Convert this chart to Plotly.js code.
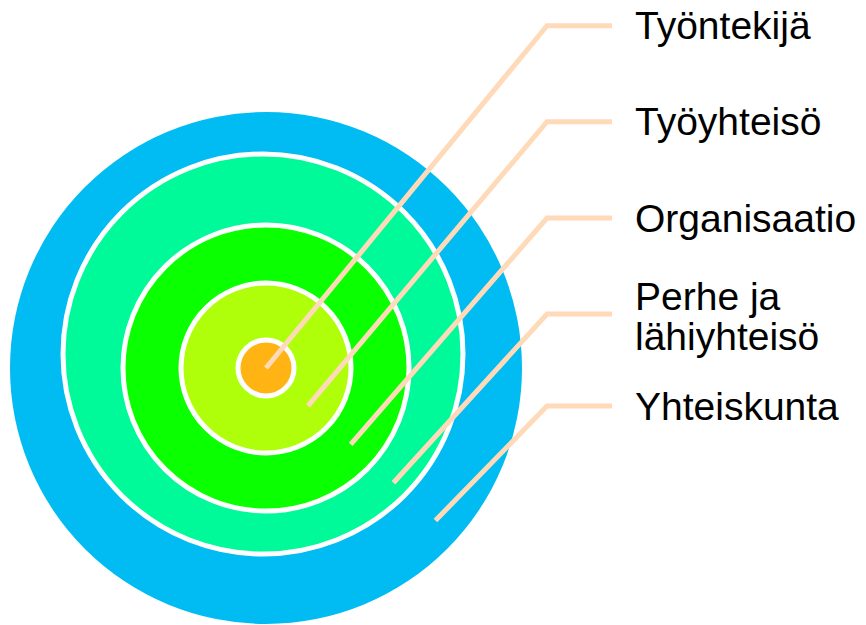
<!DOCTYPE html>
<html>
<head>
<meta charset="utf-8">
<script src="https://cdn.plot.ly/plotly-3.0.1.min.js"></script>
<style>html,body{margin:0;padding:0;background:#fff;}#chart{width:866px;height:625px;}</style>
</head>
<body>
<div id="chart"></div>
<script>
// ---- data (innermost ring first) ----
const labels = ["Työntekijä", "Työyhteisö", "Organisaatio", "Perhe ja<br>lähiyhteisö", "Yhteiskunta"];
const outerRadius = [28, 85, 143, 200, 256];

// ---- styles / layout config ----
const ringColors = ["#FFB414", "#B0FF0A", "#0AFF00", "#00FA9A", "#00BCF2"];
const ringBorder = [5, 5, 5, 5, 0];
const ringShiftX = [0, 0, 0, -3, 0];
const ringShiftY = [0, 0, 0, 14, 0];
const labelY = [342.3, 246.3, 150, 54, -38];
const leaderAngle = -42 * Math.PI / 180;
const elbowX = 281, leaderEndX = 346, labelX = 368;
const lineStep = 40;
const leaderColor = "#FFDAB9";
const fontFamily = "Arial, 'Liberation Sans', sans-serif";
const fontSize = 39;

const shapes = [];
for (let i = outerRadius.length - 1; i >= 0; i--) {
  const r = outerRadius[i];
  const cx = ringShiftX[i], cy = ringShiftY[i];
  shapes.push({
    type: "circle", xref: "x", yref: "y", layer: "below",
    x0: cx - r, x1: cx + r, y0: cy - r, y1: cy + r,
    fillcolor: ringColors[i],
    line: {color: "#FFFFFF", width: ringBorder[i]}
  });
}

const traces = [];
const annotations = [];
labels.forEach((lab, i) => {
  const rMid = i === 0 ? 0 : (outerRadius[i - 1] + outerRadius[i]) / 2;
  const ex = rMid * Math.cos(leaderAngle), ey = rMid * Math.sin(leaderAngle);
  traces.push({
    type: "scatter", mode: "lines", hoverinfo: "skip", showlegend: false,
    x: [ex, elbowX, leaderEndX], y: [ey, labelY[i], labelY[i]],
    line: {color: leaderColor, width: 5}
  });
  const parts = lab.split("<br>");
  parts.forEach((p, k) => {
    annotations.push({
      x: labelX, y: labelY[i] - (k - (parts.length - 1) / 2) * lineStep - (parts.length > 1 ? 2.5 : 0),
      xref: "x", yref: "y", text: p, showarrow: false,
      xanchor: "left", yanchor: "middle", borderpad: 0,
      font: {family: fontFamily, size: fontSize, color: "#000000"}
    });
  });
});

const layout = {
  width: 866, height: 625, autosize: false,
  margin: {l: 0, r: 0, t: 0, b: 0, pad: 0},
  paper_bgcolor: "#FFFFFF", plot_bgcolor: "#FFFFFF",
  xaxis: {range: [-266, 600], visible: false, fixedrange: true},
  yaxis: {range: [-257, 368], visible: false, fixedrange: true},
  shapes: shapes, annotations: annotations, showlegend: false
};

Plotly.newPlot("chart", traces, layout, {displayModeBar: false, staticPlot: true});
</script>
</body>
</html>
